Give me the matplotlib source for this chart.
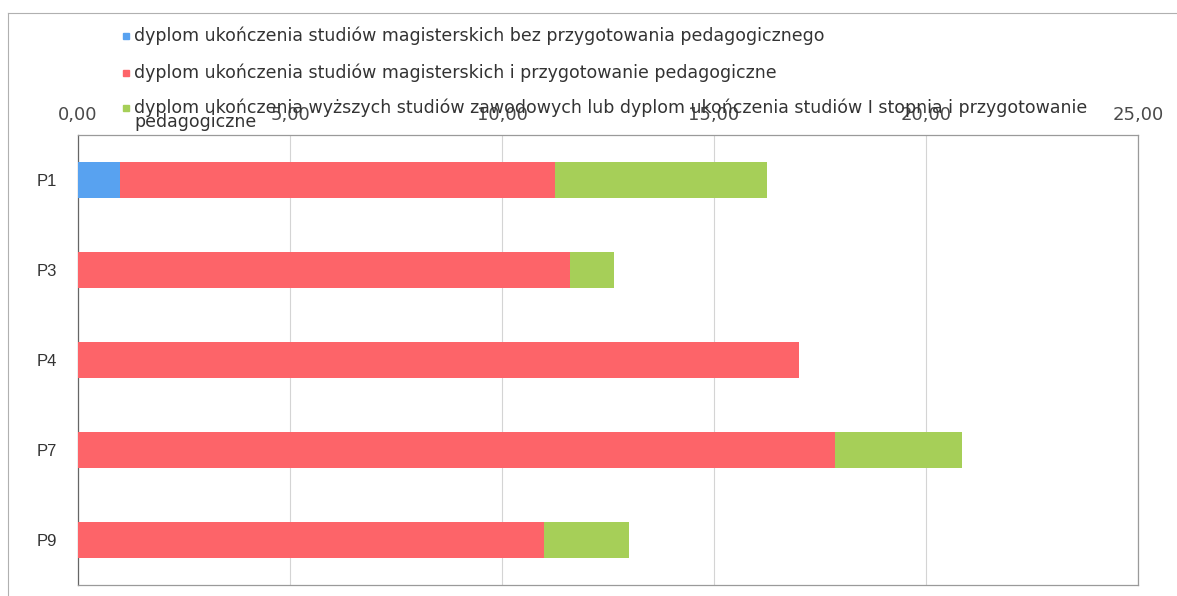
import matplotlib
matplotlib.use('Agg')
import matplotlib.pyplot as plt
from matplotlib.patches import Rectangle
from matplotlib.lines import Line2D
from matplotlib.ticker import FuncFormatter, MultipleLocator
import numpy as np

# dane
categories = ['P1', 'P3', 'P4', 'P7', 'P9']
bez_przyg = [1.00, 0.00, 0.00, 0.00, 0.00]
mgr_przyg = [10.25, 11.60, 17.00, 17.85, 11.00]
zawodowe = [5.00, 1.05, 0.00, 3.00, 2.00]

labels = [
    'dyplom ukończenia studiów magisterskich bez przygotowania pedagogicznego',
    'dyplom ukończenia studiów magisterskich i przygotowanie pedagogiczne',
    'dyplom ukończenia wyższych studiów zawodowych lub dyplom ukończenia studiów I stopnia i przygotowanie\npedagogiczne',
]
colors = ['#58a2f0', '#fd6469', '#a6cf58']

W, H = 1177, 596
fig = plt.figure(figsize=(W / 100, H / 100), dpi=100)
ax = fig.add_axes([78 / W, 1 - 585 / H, (1138 - 78) / W, (585 - 135) / H])

y = np.arange(len(categories))
left = np.zeros(len(categories))
for vals, c in zip([bez_przyg, mgr_przyg, zawodowe], colors):
    ax.barh(y, vals, left=left, height=0.4, color=c, zorder=3)
    left = left + np.array(vals)

ax.set_xlim(0, 25)
ax.set_ylim(len(categories) - 0.5, -0.5)
ax.set_yticks(y)
ax.set_yticklabels(categories, family='Liberation Sans', fontsize=12, color='#333333')
ax.xaxis.tick_top()
ax.xaxis.set_major_locator(MultipleLocator(5))
ax.xaxis.set_major_formatter(FuncFormatter(lambda v, p: f'{v:.2f}'.replace('.', ',')))
for t in ax.get_xticklabels():
    t.set_fontsize(13)
    t.set_color('#4a4a4a')
ax.tick_params(axis='x', length=0, pad=8)
ax.tick_params(axis='y', length=0, pad=15)
ax.grid(axis='x', color='#d4d4d4', linewidth=0.8, zorder=0)
for s in ax.spines.values():
    s.set_color('#9a9a9a')
    s.set_linewidth(0.9)
ax.spines['left'].set_color('#666666')

# legenda (ręcznie), każda linia osobno
rows = [36, 73, 108]
for r, lab, c in zip(rows, labels, colors):
    fig.patches.append(Rectangle((123 / W, 1 - (r + 3) / H), 6 / W, 6 / H,
                                 transform=fig.transFigure, color=c))
    for i, line in enumerate(lab.split('\n')):
        fig.text(134 / W, 1 - (r + 14 * i) / H, line, fontsize=12.5,
                 family='DejaVu Sans', color='#333333', va='center')

# ramka zewnętrzna
fig.lines.append(Line2D([8 / W, 1], [1 - 13 / H, 1 - 13 / H], transform=fig.transFigure,
                        color='#b0b0b0', linewidth=0.8))
fig.lines.append(Line2D([8 / W, 8 / W], [0, 1 - 13 / H], transform=fig.transFigure,
                        color='#b0b0b0', linewidth=0.8))

fig.savefig('out.png', dpi=100)
